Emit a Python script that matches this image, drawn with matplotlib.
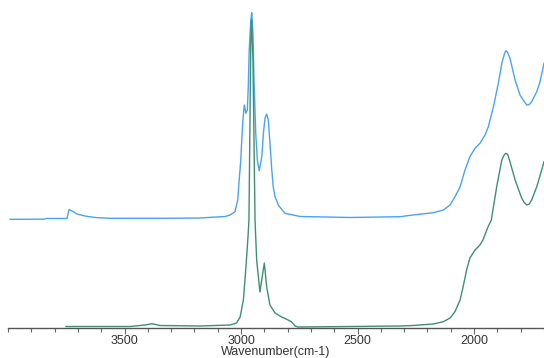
import matplotlib
matplotlib.use("Agg")
import matplotlib.pyplot as plt
from matplotlib.ticker import MultipleLocator

# Upper (blue) spectrum: wavenumber (cm-1) and absorbance (arbitrary, offset)
blue_wn = [3991, 3846, 3837, 3747, 3738, 3725, 3704, 3670, 3627, 3562, 3348, 3176,
           3069, 3047, 3026, 3014, 3009, 3001, 2997, 2992, 2986, 2979, 2973, 2969,
           2965, 2958, 2954, 2949, 2944, 2937, 2930, 2922, 2911, 2904, 2897, 2890,
           2883, 2876, 2868, 2862, 2854, 2840, 2826, 2811, 2747, 2532, 2318, 2262,
           2175, 2132, 2103, 2082, 2060, 2039, 2018, 1996, 1975, 1953, 1939, 1917,
           1896, 1881, 1870, 1864, 1857, 1846, 1824, 1803, 1785, 1774, 1763, 1753,
           1731, 1717, 1700]
blue_abs = [1.087, 1.088, 1.095, 1.095, 1.185, 1.17, 1.14, 1.12, 1.105, 1.097, 1.097, 1.10,
            1.115, 1.13, 1.163, 1.28, 1.45, 1.68, 1.88, 2.08, 2.23, 2.147, 2.18, 2.41,
            2.78, 3.08, 3.153, 2.95, 2.45, 1.95, 1.68, 1.573, 1.713, 1.95, 2.10, 2.14,
            2.08, 1.85, 1.58, 1.413, 1.313, 1.23, 1.187, 1.147, 1.115, 1.105, 1.113, 1.13,
            1.153, 1.18, 1.23, 1.313, 1.413, 1.58, 1.713, 1.797, 1.847, 1.93, 2.01, 2.213,
            2.447, 2.647, 2.74, 2.773, 2.76, 2.697, 2.48, 2.33, 2.265, 2.23, 2.235, 2.263,
            2.363, 2.463, 2.647]

# Lower (green) spectrum
green_wn = [3751, 3605, 3476, 3412, 3382, 3348, 3176, 3047, 3019, 3004, 2990, 2980,
            2971, 2966, 2958, 2955, 2949, 2940, 2933, 2919, 2910, 2900, 2890, 2876,
            2854, 2826, 2798, 2783, 2768, 2756, 2532, 2318, 2262, 2175, 2132, 2103,
            2082, 2060, 2047, 2032, 2018, 1996, 1975, 1962, 1940, 1926, 1903, 1881,
            1870, 1863, 1856, 1846, 1824, 1796, 1785, 1774, 1763, 1753, 1731, 1710, 1700]
green_abs = [0.015, 0.015, 0.015, 0.03, 0.043, 0.025, 0.02, 0.03, 0.05, 0.11, 0.28, 0.58,
             0.88, 1.08, 2.9, 3.08, 2.7, 1.08, 0.68, 0.36, 0.50, 0.65, 0.41, 0.23,
             0.15, 0.11, 0.08, 0.06, 0.02, 0.01, 0.015, 0.02, 0.025, 0.04, 0.063, 0.10,
             0.163, 0.28, 0.413, 0.58, 0.70, 0.78, 0.83, 0.88, 1.013, 1.08, 1.413, 1.68,
             1.735, 1.747, 1.735, 1.663, 1.48, 1.30, 1.255, 1.23, 1.24, 1.28, 1.413, 1.58, 1.663]

x_ticks = [3500, 3000, 2500, 2000]
x_label = "Wavenumber(cm-1)"

plt.rcParams['font.family'] = ['Liberation Sans', 'DejaVu Sans']
fig = plt.figure(figsize=(5.44, 3.58), dpi=100)
ax = fig.add_axes([8/544, 30/358, 536/544, 328/358])
ax.plot(blue_wn, blue_abs, color="#4aa3f0", lw=1.0, solid_joinstyle="round")
ax.plot(green_wn, green_abs, color="#3d9070", lw=1.0, solid_joinstyle="round")
ax.set_xlim(4000, 1700)
ax.set_ylim(0, 3.28)
for s in ("top", "right", "left"):
    ax.spines[s].set_visible(False)
ax.spines["bottom"].set_color("#555555")
ax.spines["bottom"].set_linewidth(1.0)
ax.set_yticks([])
ax.set_xticks(x_ticks)
ax.set_xticklabels([str(t) for t in x_ticks])
ax.xaxis.set_minor_locator(MultipleLocator(100))
ax.tick_params(axis="x", which="major", direction="out", length=4, width=0.8,
               color="#666666", labelsize=9, labelcolor="#333333", pad=1)
ax.tick_params(axis="x", which="minor", direction="out", length=3, width=0.8,
               color="#666666")
ax.set_xlabel(x_label, fontsize=9, color="#333333", labelpad=-1)
fig.savefig("out.png", dpi=100)
